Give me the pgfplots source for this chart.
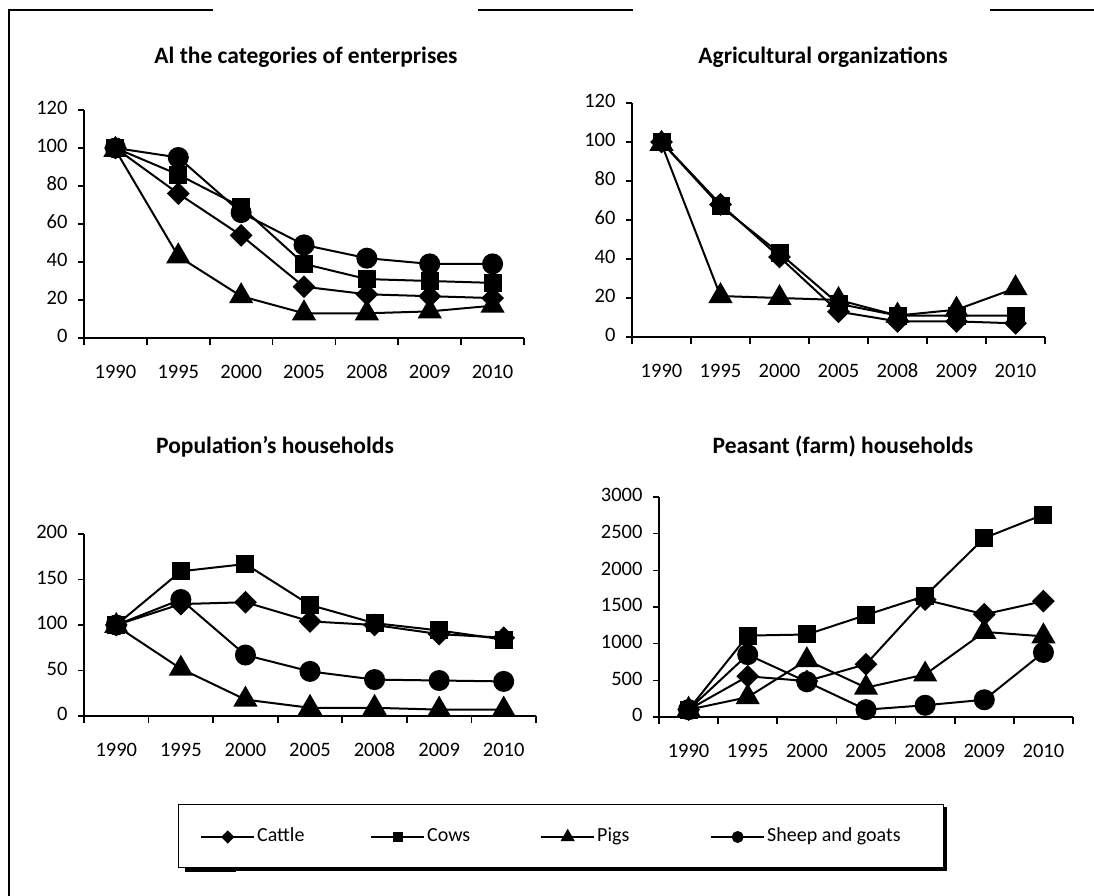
\documentclass[border=0pt]{standalone}
\usepackage{fontspec}
\setmainfont{Carlito}
\usepackage{pgfplots}
\pgfplotsset{compat=1.18}

\pgfplotsset{
  excel/.style={
    scale only axis,
    axis x line*=bottom, axis y line*=left,
    axis line style={line width=1.6pt, -},
    xmin=0.5, xmax=7.5,
    xtick={1,...,7},
    xticklabels={1990,1995,2000,2005,2008,2009,2010},
    minor xtick={0.5,1.5,...,7.5},
    major x tick style={draw=none},
    minor x tick style={line width=1.6pt, black},
    minor tick length=7pt,
    major tick length=6pt,
    tick align=outside,
    y tick style={line width=1.6pt, black},
    tick label style={font=\fontsize{20.5}{24}\selectfont},
    typeset ticklabels with strut,
    /pgf/number format/assume math mode=true,
    /pgf/number format/1000 sep={},
    xticklabel style={yshift=-14pt},
    yticklabel style={xshift=-7pt},
    clip=false,
    ymin=0,
    legend image code/.code={\draw[#1, every mark/.append style={scale=0.52}, mark repeat=2, mark phase=2] plot coordinates {(0pt,0pt) (26.5pt,0pt) (53pt,0pt)};},
  },
  cattle/.style={black, line width=2pt, mark=diamond*, mark size=10pt, mark options={solid, xscale=1.33}},
  cows/.style={black, line width=2pt, mark=square*, mark size=8pt, mark options={solid}},
  pigs/.style={black, line width=2pt, mark=triangle*, mark size=12pt, mark options={solid}},
  sheep/.style={black, line width=2pt, mark=*, mark size=9.5pt, mark options={solid}},
}

\begin{document}
\begin{tikzpicture}[x=1pt,y=1pt]
\useasboundingbox (0pt,0pt) rectangle (1094pt,896pt);

% frame fragments
\draw[line width=2pt] (9pt,0pt) -- (9pt,886pt) -- (213pt,886pt);
\draw[line width=2pt] (478pt,886pt) -- (633pt,886pt);
\draw[line width=2pt] (990pt,886pt) -- (1094pt,886pt);

% Plot 1
\begin{axis}[excel, at={(84pt,558pt)}, anchor=south west, width=440pt, height=228pt,
  ymax=120, ytick={0,20,...,120}]
\addplot[cattle] coordinates {(1,100) (2,76) (3,54) (4,27) (5,23) (6,22) (7,21)};
\addplot[cows] coordinates {(1,100) (2,86) (3,69) (4,39) (5,31) (6,30) (7,29)};
\addplot[pigs] coordinates {(1,99) (2,43) (3,22) (4,13) (5,13) (6,14) (7,17)};
\addplot[sheep] coordinates {(1,100) (2,95) (3,66) (4,49) (5,42) (6,39) (7,39)};
\end{axis}
\node[font=\fontsize{23.5}{28}\selectfont\bfseries] at (306pt,839pt) {Al the categories of enterprises};

% Plot 2
\begin{axis}[excel, at={(632pt,559pt)}, anchor=south west, width=413pt, height=234pt,
  ymax=120, ytick={0,20,...,120}]
\addplot[cattle] coordinates {(1,100) (2,68) (3,41) (4,13) (5,8) (6,8) (7,7)};
\addplot[cows] coordinates {(1,100) (2,67) (3,43) (4,17) (5,11) (6,11) (7,11)};
\addplot[pigs] coordinates {(1,99) (2,21) (3,20) (4,19) (5,11) (6,14) (7,25)};
\end{axis}
\node[font=\fontsize{23.5}{28}\selectfont\bfseries] at (823pt,839pt) {Agricultural organizations};

% Plot 3
\begin{axis}[excel, at={(84pt,180pt)}, anchor=south west, width=452pt, height=182pt,
  ymax=200, ytick={0,50,...,200},
  legend style={draw=none, fill=none, at={(0.2566,-0.6648)}, anchor=west,
    legend columns=4, inner sep=0pt, font=\fontsize{20}{24}\selectfont,
    nodes={text height=14pt, text depth=5pt}}]
\addplot[cattle] coordinates {(1,100) (2,123) (3,125) (4,104) (5,100) (6,90) (7,86)};
\addlegendentry{\makebox[111pt][l]{Cattle}}
\addplot[cows] coordinates {(1,100) (2,159) (3,167) (4,122) (5,102) (6,94) (7,84)};
\addlegendentry{\makebox[111pt][l]{Cows}}
\addplot[pigs] coordinates {(1,99) (2,52) (3,18) (4,9) (5,9) (6,7) (7,7)};
\addlegendentry{\makebox[111pt][l]{Pigs}}
\addplot[sheep] coordinates {(1,100) (2,128) (3,67) (4,49) (5,40) (6,39) (7,38)};
\addlegendentry{Sheep and goats}
\end{axis}
\node[font=\fontsize{23.5}{28}\selectfont\bfseries] at (275pt,449pt) {Population’s households};

% Plot 4
\begin{axis}[excel, at={(659pt,179pt)}, anchor=south west, width=414pt, height=220pt,
  ymax=3000, ytick={0,500,...,3000}]
\addplot[cattle] coordinates {(1,100) (2,555) (3,490) (4,720) (5,1600) (6,1400) (7,1580)};
\addplot[cows] coordinates {(1,100) (2,1110) (3,1125) (4,1390) (5,1650) (6,2440) (7,2760)};
\addplot[pigs] coordinates {(1,100) (2,270) (3,775) (4,400) (5,580) (6,1160) (7,1100)};
\addplot[sheep] coordinates {(1,100) (2,850) (3,480) (4,100) (5,160) (6,235) (7,880)};
\end{axis}
\node[font=\fontsize{23.5}{28}\selectfont\bfseries] at (843pt,449pt) {Peasant (farm) households};

% legend box with shadow
\draw[line width=1pt] (178pt,28pt) rectangle (943pt,91pt);
\draw[line width=3pt] (185pt,26.5pt) -- (945pt,26.5pt) -- (945pt,89pt);
\fill (185pt,24pt) rectangle (236pt,28.5pt);
\end{tikzpicture}
\end{document}
